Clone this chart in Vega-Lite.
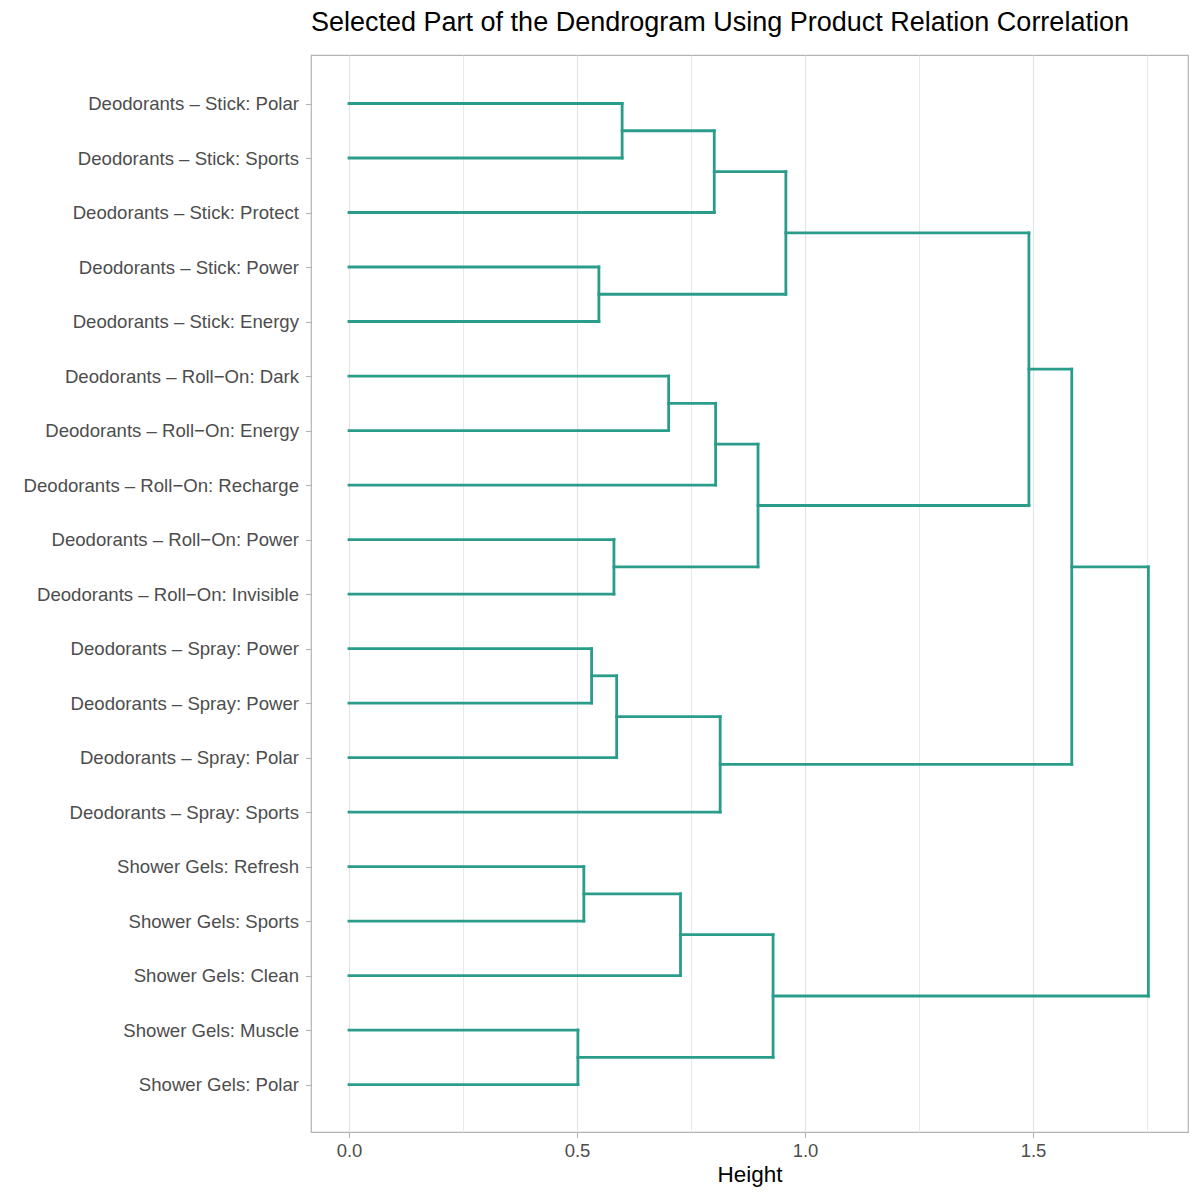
{
  "$schema": "https://vega.github.io/schema/vega-lite/v6.json",
  "width": 877,
  "height": 1077,
  "autosize": {"type": "none"},
  "padding": {"left": 311, "top": 55, "right": 12, "bottom": 68},
  "background": "white",
  "title": {
    "text": "Selected Part of the Dendrogram Using Product Relation Correlation",
    "anchor": "start",
    "frame": "group",
    "font": "Liberation Sans",
    "fontSize": 27,
    "fontWeight": "normal",
    "color": "black",
    "offset": 18
  },
  "config": {
    "font": "Liberation Sans",
    "view": {"stroke": "#b3b3b3", "strokeWidth": 1.2}
  },
  "data": {
    "values": [
      {"x": 0, "x2": 0.599, "y": 1, "y2": 1},
      {"x": 0, "x2": 0.599, "y": 2, "y2": 2},
      {"x": 0.599, "x2": 0.599, "y": 1, "y2": 2},
      {"x": 0.599, "x2": 0.801, "y": 1.5, "y2": 1.5},
      {"x": 0, "x2": 0.801, "y": 3, "y2": 3},
      {"x": 0.801, "x2": 0.801, "y": 1.5, "y2": 3},
      {"x": 0, "x2": 0.548, "y": 4, "y2": 4},
      {"x": 0, "x2": 0.548, "y": 5, "y2": 5},
      {"x": 0.548, "x2": 0.548, "y": 4, "y2": 5},
      {"x": 0.801, "x2": 0.958, "y": 2.25, "y2": 2.25},
      {"x": 0.548, "x2": 0.958, "y": 4.5, "y2": 4.5},
      {"x": 0.958, "x2": 0.958, "y": 2.25, "y2": 4.5},
      {"x": 0, "x2": 0.701, "y": 6, "y2": 6},
      {"x": 0, "x2": 0.701, "y": 7, "y2": 7},
      {"x": 0.701, "x2": 0.701, "y": 6, "y2": 7},
      {"x": 0.701, "x2": 0.804, "y": 6.5, "y2": 6.5},
      {"x": 0, "x2": 0.804, "y": 8, "y2": 8},
      {"x": 0.804, "x2": 0.804, "y": 6.5, "y2": 8},
      {"x": 0, "x2": 0.581, "y": 9, "y2": 9},
      {"x": 0, "x2": 0.581, "y": 10, "y2": 10},
      {"x": 0.581, "x2": 0.581, "y": 9, "y2": 10},
      {"x": 0.804, "x2": 0.897, "y": 7.25, "y2": 7.25},
      {"x": 0.581, "x2": 0.897, "y": 9.5, "y2": 9.5},
      {"x": 0.897, "x2": 0.897, "y": 7.25, "y2": 9.5},
      {"x": 0.958, "x2": 1.491, "y": 3.375, "y2": 3.375},
      {"x": 0.897, "x2": 1.491, "y": 8.375, "y2": 8.375},
      {"x": 1.491, "x2": 1.491, "y": 3.375, "y2": 8.375},
      {"x": 0, "x2": 0.532, "y": 11, "y2": 11},
      {"x": 0, "x2": 0.532, "y": 12, "y2": 12},
      {"x": 0.532, "x2": 0.532, "y": 11, "y2": 12},
      {"x": 0.532, "x2": 0.587, "y": 11.5, "y2": 11.5},
      {"x": 0, "x2": 0.587, "y": 13, "y2": 13},
      {"x": 0.587, "x2": 0.587, "y": 11.5, "y2": 13},
      {"x": 0.587, "x2": 0.814, "y": 12.25, "y2": 12.25},
      {"x": 0, "x2": 0.814, "y": 14, "y2": 14},
      {"x": 0.814, "x2": 0.814, "y": 12.25, "y2": 14},
      {"x": 1.491, "x2": 1.585, "y": 5.875, "y2": 5.875},
      {"x": 0.814, "x2": 1.585, "y": 13.125, "y2": 13.125},
      {"x": 1.585, "x2": 1.585, "y": 5.875, "y2": 13.125},
      {"x": 0, "x2": 0.515, "y": 15, "y2": 15},
      {"x": 0, "x2": 0.515, "y": 16, "y2": 16},
      {"x": 0.515, "x2": 0.515, "y": 15, "y2": 16},
      {"x": 0.515, "x2": 0.727, "y": 15.5, "y2": 15.5},
      {"x": 0, "x2": 0.727, "y": 17, "y2": 17},
      {"x": 0.727, "x2": 0.727, "y": 15.5, "y2": 17},
      {"x": 0, "x2": 0.502, "y": 18, "y2": 18},
      {"x": 0, "x2": 0.502, "y": 19, "y2": 19},
      {"x": 0.502, "x2": 0.502, "y": 18, "y2": 19},
      {"x": 0.727, "x2": 0.93, "y": 16.25, "y2": 16.25},
      {"x": 0.502, "x2": 0.93, "y": 18.5, "y2": 18.5},
      {"x": 0.93, "x2": 0.93, "y": 16.25, "y2": 18.5},
      {"x": 1.585, "x2": 1.753, "y": 9.5, "y2": 9.5},
      {"x": 0.93, "x2": 1.753, "y": 17.375, "y2": 17.375},
      {"x": 1.753, "x2": 1.753, "y": 9.5, "y2": 17.375}
    ]
  },
  "mark": {"type": "rule", "color": "#2A9D8A", "strokeWidth": 2.8, "strokeCap": "square"},
  "encoding": {
    "x": {
      "field": "x",
      "type": "quantitative",
      "scale": {"domain": [-0.0833, 1.8399], "nice": false, "zero": false},
      "axis": {
        "title": "Height",
        "values": [0, 0.25, 0.5, 0.75, 1, 1.25, 1.5, 1.75],
        "labelExpr": "datum.value % 0.5 === 0 ? format(datum.value, '.1f') : ''",
        "grid": true,
        "gridColor": "#e3e3e3",
        "gridWidth": {"condition": {"test": "datum.value % 0.5 !== 0", "value": 0.8}, "value": 1.1},
        "tickOpacity": {"condition": {"test": "datum.value % 0.5 !== 0", "value": 0}, "value": 1},
        "domain": false,
        "tickColor": "#b3b3b3",
        "tickSize": 5.5,
        "tickWidth": 1.1,
        "labelFontSize": 18.5,
        "labelColor": "#4d4d4d",
        "labelPadding": 4,
        "titleFontSize": 22.5,
        "titleFontWeight": "normal",
        "titleColor": "black",
        "titlePadding": 3
      }
    },
    "x2": {"field": "x2"},
    "y": {
      "field": "y",
      "type": "quantitative",
      "scale": {"domain": [0.11, 19.87], "reverse": true, "nice": false, "zero": false},
      "axis": {
        "title": null,
        "values": [1, 2, 3, 4, 5, 6, 7, 8, 9, 10, 11, 12, 13, 14, 15, 16, 17, 18, 19],
        "labelExpr": "['Deodorants – Stick: Polar','Deodorants – Stick: Sports','Deodorants – Stick: Protect','Deodorants – Stick: Power','Deodorants – Stick: Energy','Deodorants – Roll−On: Dark','Deodorants – Roll−On: Energy','Deodorants – Roll−On: Recharge','Deodorants – Roll−On: Power','Deodorants – Roll−On: Invisible','Deodorants – Spray: Power','Deodorants – Spray: Power','Deodorants – Spray: Polar','Deodorants – Spray: Sports','Shower Gels: Refresh','Shower Gels: Sports','Shower Gels: Clean','Shower Gels: Muscle','Shower Gels: Polar'][datum.value - 1]",
        "grid": false,
        "domain": false,
        "tickColor": "#b3b3b3",
        "tickSize": 5.5,
        "tickWidth": 1.1,
        "labelFontSize": 18.6,
        "labelColor": "#4d4d4d",
        "labelPadding": 7,
        "labelLimit": 500
      }
    },
    "y2": {"field": "y2"}
  }
}
